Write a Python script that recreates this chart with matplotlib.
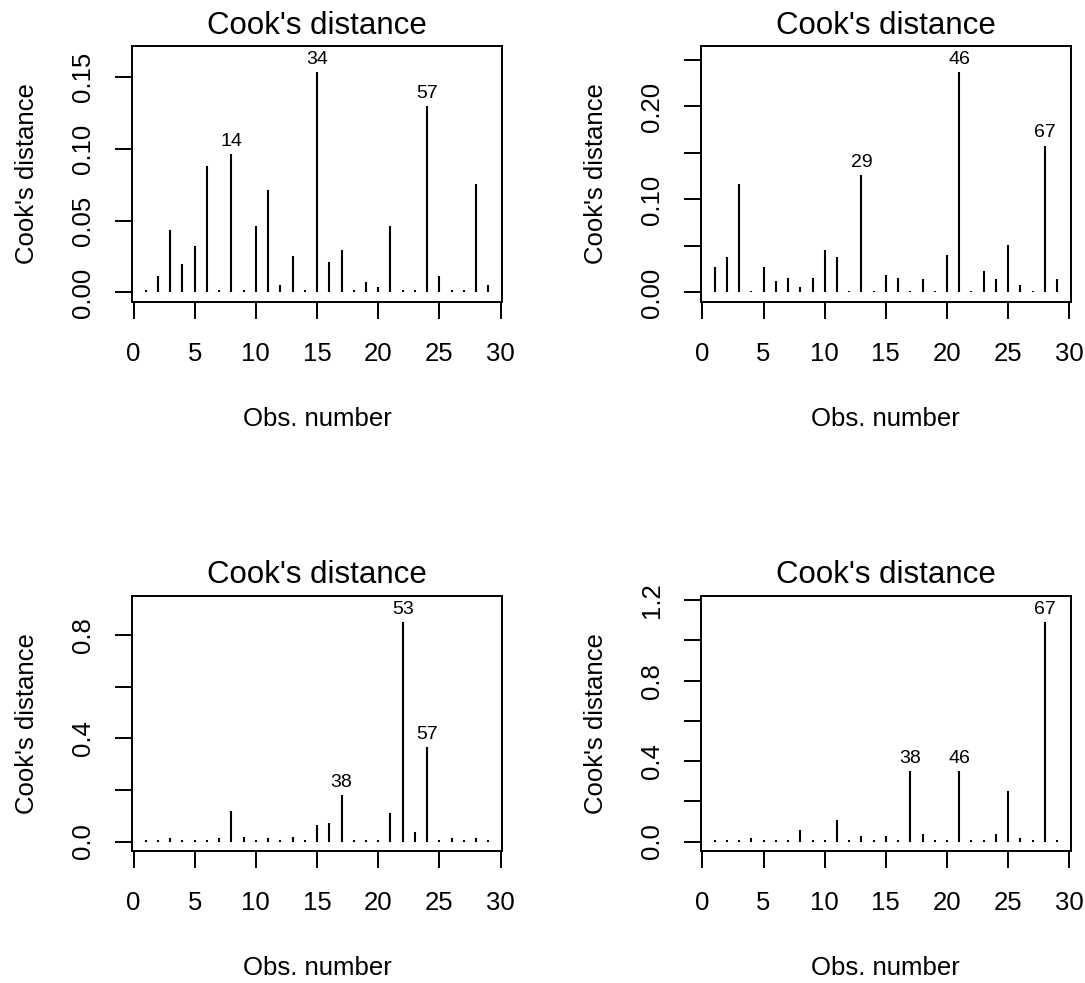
import matplotlib
matplotlib.use('Agg')
import matplotlib.pyplot as plt

plt.rcParams['font.family'] = ['Liberation Sans', 'DejaVu Sans']

obsNumber = list(range(1, 30))

cookA = [0.0015, 0.0118, 0.0437, 0.0201, 0.0326, 0.0882, 0.0015, 0.0965, 0.0015, 0.0465,
         0.0715, 0.0049, 0.0257, 0.0015, 0.1535, 0.0215, 0.0299, 0.0020, 0.0076, 0.0035,
         0.0465, 0.0020, 0.0015, 0.1299, 0.0118, 0.0015, 0.0015, 0.0757, 0.0049]
cookB = [0.027, 0.038, 0.117, 0.002, 0.027, 0.012, 0.016, 0.006, 0.016, 0.046,
         0.038, 0.002, 0.126, 0.002, 0.019, 0.016, 0.002, 0.014, 0.002, 0.040,
         0.237, 0.002, 0.023, 0.014, 0.051, 0.008, 0.002, 0.158, 0.014]
cookC = [0.006, 0.006, 0.012, 0.006, 0.006, 0.006, 0.012, 0.119, 0.019, 0.006,
         0.012, 0.006, 0.019, 0.006, 0.065, 0.073, 0.181, 0.006, 0.006, 0.006,
         0.112, 0.850, 0.035, 0.365, 0.006, 0.012, 0.006, 0.012, 0.006]
cookD = [0.008, 0.008, 0.008, 0.016, 0.008, 0.008, 0.008, 0.056, 0.008, 0.008,
         0.105, 0.008, 0.026, 0.008, 0.026, 0.008, 0.350, 0.036, 0.008, 0.008,
         0.350, 0.008, 0.008, 0.036, 0.253, 0.016, 0.008, 1.092, 0.008]

# labelled points: (index on x axis, label)
labelsA = [(8, '14'), (15, '34'), (24, '57')]
labelsB = [(13, '29'), (21, '46'), (28, '67')]
labelsC = [(17, '38'), (22, '53'), (24, '57')]
labelsD = [(17, '38'), (21, '46'), (28, '67')]

yTicksA = [0.0, 0.05, 0.10, 0.15]
yLabelsA = ['0.00', '0.05', '0.10', '0.15']
yTicksB = [0.0, 0.05, 0.10, 0.15, 0.20, 0.25]
yLabelsB = ['0.00', '', '0.10', '', '0.20', '']
yTicksC = [0.0, 0.2, 0.4, 0.6, 0.8]
yLabelsC = ['0.0', '', '0.4', '', '0.8']
yTicksD = [0.0, 0.2, 0.4, 0.6, 0.8, 1.0, 1.2]
yLabelsD = ['0.0', '', '0.4', '', '0.8', '', '1.2']
xTicks = [0, 5, 10, 15, 20, 25, 30]


def cookPanel(ax, values, labels, yTicks, yLabels):
    ax.vlines(obsNumber, 0, values, color='black', linewidth=1.5)
    top = max(values) * 1.075
    ax.set_ylim(-0.04 * top, top * 1.04)
    ax.set_xlim(1 - 0.04 * 28, 29 + 0.04 * 28)
    for idx, text in labels:
        ax.annotate(text, (idx, values[idx - 1]), xytext=(0, 3), textcoords='offset points',
                    ha='center', va='bottom', fontsize=14)
    ax.set_xticks(xTicks)
    ax.set_yticks(yTicks)
    ax.set_yticklabels(yLabels, rotation=90, va='center')
    ax.tick_params(direction='out', length=12, width=1.4, labelsize=18.5, color='black')
    ax.tick_params(axis='x', pad=17)
    ax.tick_params(axis='y', pad=15)
    for side in ax.spines.values():
        side.set_linewidth(1.4)
    ax.set_title("Cook's distance", fontsize=22.5, pad=9)
    ax.set_xlabel('Obs. number', fontsize=18.5, labelpad=29)
    ax.set_ylabel("Cook's distance", fontsize=18.5, labelpad=23)


fig = plt.figure(figsize=(10.85, 9.83), dpi=100)
axA = fig.add_axes([0.1217, 0.6928, 0.3410, 0.2604])
axB = fig.add_axes([0.6461, 0.6928, 0.3407, 0.2604])
axC = fig.add_axes([0.1217, 0.1343, 0.3410, 0.2594])
axD = fig.add_axes([0.6461, 0.1343, 0.3407, 0.2594])

cookPanel(axA, cookA, labelsA, yTicksA, yLabelsA)
cookPanel(axB, cookB, labelsB, yTicksB, yLabelsB)
cookPanel(axC, cookC, labelsC, yTicksC, yLabelsC)
cookPanel(axD, cookD, labelsD, yTicksD, yLabelsD)

fig.savefig('out.png', dpi=100)
